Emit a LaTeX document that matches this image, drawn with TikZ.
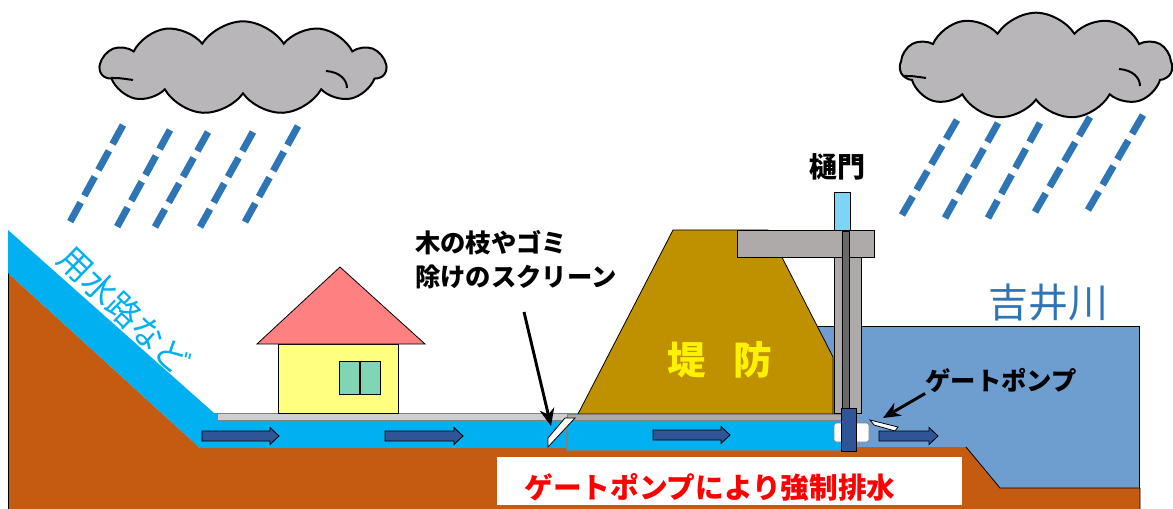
\documentclass[tikz,border=0pt]{standalone}
\usepackage{fontspec}
\setmainfont{Noto Sans CJK JP}
\usetikzlibrary{shapes.symbols,arrows.meta}
\definecolor{soil}{RGB}{197,90,17}
\definecolor{canal}{RGB}{0,176,240}
\definecolor{river}{RGB}{109,158,207}
\definecolor{levee}{RGB}{191,144,0}
\definecolor{steel}{RGB}{174,170,170}
\definecolor{rodgray}{RGB}{105,105,105}
\definecolor{gateblue}{RGB}{47,85,151}
\definecolor{rainblue}{RGB}{46,117,182}
\definecolor{roof}{RGB}{255,128,128}
\definecolor{wall}{RGB}{255,255,128}
\definecolor{pane}{RGB}{128,214,180}
\definecolor{pave}{RGB}{208,206,206}
\definecolor{cloudgray}{RGB}{184,182,184}
\definecolor{capblue}{RGB}{125,212,245}
\definecolor{drainred}{RGB}{255,0,0}
\begin{document}
\begin{tikzpicture}
[x=0.75pt,y=-0.75pt,
  thinEdge/.style={draw=black,line width=0.6pt},
  rainDecorate/.style={rainblue,line width=5.2pt,dash pattern=on 16.3pt off 5.8pt},
  flowDecorate/.style={fill=gateblue,draw=black,line width=0.6pt},
  callout/.style={-{Stealth[length=13pt,width=11pt]},line width=2.2pt},
  noteText/.style={font=\bfseries\fontsize{19}{25.5}\selectfont,align=left,inner sep=0pt},
  rainCloud/.style={cloud,cloud puffs=11,cloud puff arc=115,aspect=3,draw,
    line width=1.5pt,fill=cloudgray,inner sep=0pt,minimum width=214pt,minimum height=70pt}]
\useasboundingbox (0,0) rectangle (1173,509);
%% river, ground and the small canal
\path[fill=river] (815,326) rectangle (1139,490);
\draw[thinEdge] (815,326) -- (1139,326) -- (1139,490);
\path[fill=soil] (8,273) -- (200,448) -- (966,447) -- (1000,488) -- (1140,488)
  -- (1140,509) -- (8,509) -- cycle;
\draw[thinEdge] (8,509) -- (8,273);
\draw[thinEdge] (966,447) -- (1000,488) -- (1140,488) -- (1140,509);
\path[fill=canal] (8,230) -- (214,413) -- (845,413) -- (845,448) -- (200,448)
  -- (8,273) -- cycle;
\draw[fill=pave,draw=gray,line width=0.5pt] (217,413) rectangle (567,420);
%% house
\draw[thinEdge,fill=wall] (278,344) rectangle (398,413);
\draw[thinEdge,fill=roof] (257,344) -- (340,267) -- (425,344) -- cycle;
\draw[thinEdge,fill=pane] (339,361) rectangle (380,394);
\draw[line width=1pt] (360,361) -- (360,394);
%% levee and culvert
\draw[thinEdge,fill=levee] (578,414) -- (673,230) -- (768,230) -- (833,357)
  -- (833,414) -- cycle;
\draw[fill=canal,draw=gray,line width=1.2pt] (567,418) rectangle (842,450);
\draw[fill=steel,draw=gray,line width=0.6pt] (567,414) rectangle (842,420);
\draw[thinEdge,fill=white] (548,447) -- (548,438) -- (565,418) -- (575,418) -- cycle;
%% sluice gate
\draw[thinEdge,fill=steel] (737,230) rectangle (874,257);
\draw[thinEdge,fill=steel] (834,257) rectangle (861,413);
\draw[thinEdge,fill=rodgray] (842,231) rectangle (849,408);
\draw[thinEdge,fill=capblue] (834,192) rectangle (850,230);
\draw[draw=gray,fill=white,rounded corners=2pt] (834,423) rectangle (869,442);
\draw[thinEdge,fill=gateblue] (841,408) rectangle (856,451);
\draw[thinEdge,fill=white] (870,420) -- (898,427) -- (895,431) -- (874,425) -- cycle;
%% flow arrows
\foreach \xa/\xb/\yc in {202/279/436, 385/463/436, 653/730/435, 879/938/436}
{
  \draw[flowDecorate] (\xa,\yc-5) -- (\xb-9,\yc-5) -- (\xb-9,\yc-8.5) -- (\xb,\yc)
    -- (\xb-9,\yc+8.5) -- (\xb-9,\yc+5) -- (\xa,\yc+5) -- cycle;
}
%% clouds and rain
\node (cloudL) at (243,68) [rainCloud] {};
\node (cloudR) at (1036,66) [rainCloud,minimum width=204pt,minimum height=80pt] {};
\foreach \cloudname in {cloudL, cloudR}
{
  \begin{scope}[shift={(\cloudname.center)},line width=1.5pt]
    \draw (-132,10) .. controls (-124,10) .. (-110,12);
    \draw (83,3) .. controls (97,4) and (104,12) .. (104,20);
  \end{scope}
}
\foreach \xt/\yt/\xb/\yb in {
  123/125/70/222, 170/130/117/227, 208/132/155/227, 253/132/200/227, 298/126/245/222,
  957/120/902/215, 998/123/945/218, 1040/123/988/218, 1090/117/1035/212,
  1143/115/1088/210}
{
  \draw[rainDecorate] (\xt,\yt) -- (\xb,\yb);
}
%% labels
\node (canalTxt) at (124,310) [rotate=-44,text=canal,font=\fontsize{25}{25}\selectfont,inner sep=0pt] {用水路など};
\node (screenTxt) at (516,260) [noteText] {木の枝やゴミ\\除けのスクリーン};
\node (leveeTxt) at (720,360) [text=yellow,font=\bfseries\fontsize{29}{29}\selectfont,inner sep=0pt] {堤\hspace{0.7em}防};
\node (sluiceTxt) at (837,167) [noteText,font=\bfseries\fontsize{21}{21}\selectfont] {樋門};
\node (riverTxt) at (1048,303) [text=rainblue,font=\fontsize{30}{30}\selectfont,inner sep=0pt] {吉井川};
\node (pumpTxt) at (1001,381) [noteText] {ゲートポンプ};
\fill[white] (497,457) rectangle (962,505);
\node (drainTxt) at (710,487) [text=drainred,font=\bfseries\fontsize{21.5}{21.5}\selectfont,inner sep=0pt] {ゲートポンプにより強制排水};
%% callouts
\coordinate (screenTail) at (524,312);
\coordinate (screenTip) at (551,426);
\coordinate (pumpTip) at (883,418);
\draw[callout] (screenTail) -- (screenTip);
\draw[callout] (pumpTxt.south west) -- (pumpTip);
\end{tikzpicture}
\end{document}
